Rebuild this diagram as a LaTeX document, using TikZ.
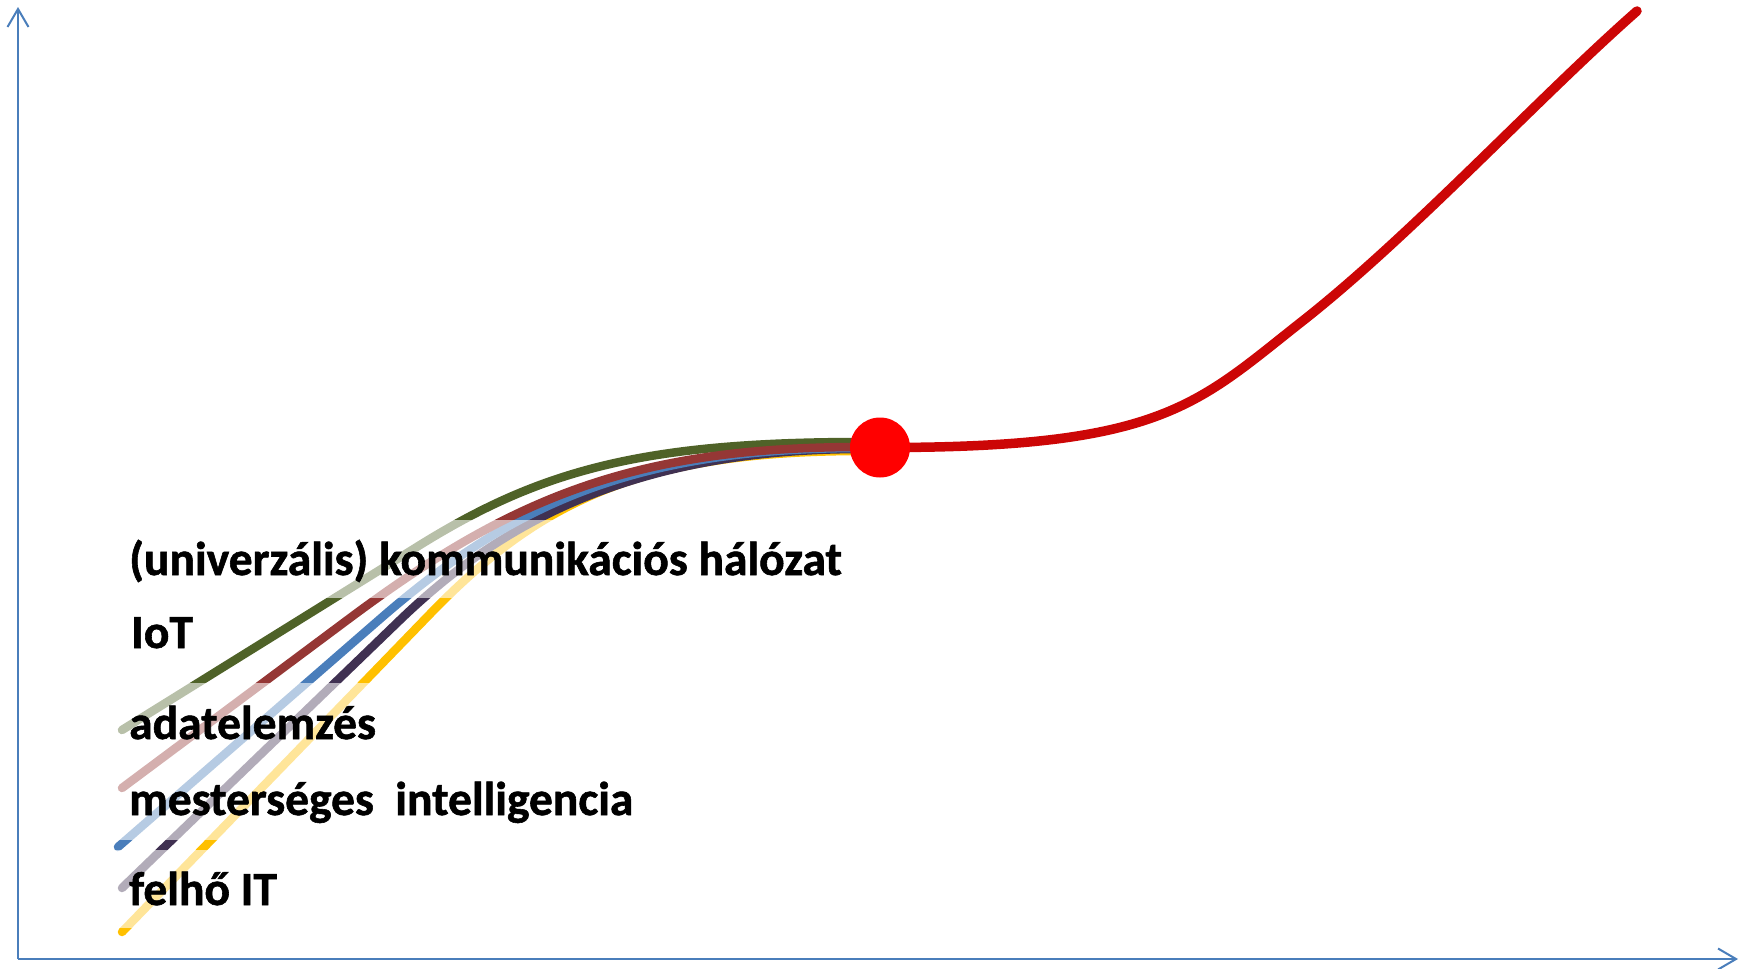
\documentclass[tikz,border=0pt]{standalone}
\usepackage{fontspec}
\setmainfont{Carlito}[BoldFeatures={FakeBold=1.2}]
\usetikzlibrary{arrows.meta}
\definecolor{axiscol}{HTML}{4A7EBB}
\definecolor{cgreen}{HTML}{4F6228}
\definecolor{cdred}{HTML}{953735}
\definecolor{cblue}{HTML}{4A7EBB}
\definecolor{cpurple}{HTML}{403152}
\definecolor{cyellow}{HTML}{FFC000}
\definecolor{cmain}{HTML}{CC0606}
\definecolor{cdot}{HTML}{FF0000}
\tikzset{
  axisline/.style={draw=axiscol, line width=2pt, -{Straight Barb[length=18pt,width=21pt,line width=2pt]}},
  trend/.style={line width=8.5pt, line cap=round, line join=round},
  veil/.style={fill=white, fill opacity=0.6, draw=none},
  reddot/.style={circle, fill=cdot, minimum size=60pt, inner sep=0pt},
  lbl/.style={anchor=base west, inner sep=0pt, font=\fontsize{47.5}{56}\selectfont\bfseries}
}
\begin{document}
\begin{tikzpicture}[x=1pt,y=-1pt]
\useasboundingbox (0,0) rectangle (1740,969);
% axes
\coordinate (O) at (18,959);
\coordinate (ytop) at (18,7);
\coordinate (xend) at (1738,959);
\draw[axisline] (O) -- (ytop);
\draw[axisline] (O) -- (xend);
% dot position
\coordinate (dotc) at (880,447.5);
% start coordinates
\coordinate (g0) at (122,730);
\coordinate (r0) at (122,788);
\coordinate (b0) at (118,847);
\coordinate (p0) at (122,888);
\coordinate (y0) at (122,932);
\coordinate (topend) at (1637,11);
% colored curves
\draw[trend, cyellow] (y0) -- (430,614) .. controls (540,500.5) and (642,451) .. (862,451);
\draw[trend, cpurple] (p0) -- (400,620) .. controls (500,523.6) and (632,449) .. (862,449);
\draw[trend, cblue] (b0) -- (380,619) .. controls (510,505.9) and (632,448) .. (862,448);
\draw[trend, cgreen] (g0) -- (420,545) .. controls (540,470.6) and (642,442) .. (862,442);
\draw[trend, cdred] (r0) -- (350,618) .. controls (510,498.8) and (632,447) .. (862,447);
% white veils (semi-transparent text boxes)
\path[veil] (100,520) rectangle (880,598);
\path[veil] (100,683) rectangle (650,840);
\path[veil] (100,850) rectangle (300,928);
% main red curve
\draw[trend, cmain, line width=9.5pt] (dotc) .. controls (1160,448) and (1195,405.9) .. (1300,323)
  .. controls (1410,237) and (1537,99) .. (topend);
\node[reddot] (dot) at (dotc) {};
% labels
\node[lbl] (t1) at (129,575) {(univerzális) kommunikációs hálózat};
\node[lbl] (t2) at (131,648) {IoT};
\node[lbl] (t3) at (129,739) {adatelemzés};
\node[lbl] (t4) at (129,815) {mesterséges\ \ intelligencia};
\node[lbl] (t5) at (129,905) {felhő IT};
\end{tikzpicture}
\end{document}
